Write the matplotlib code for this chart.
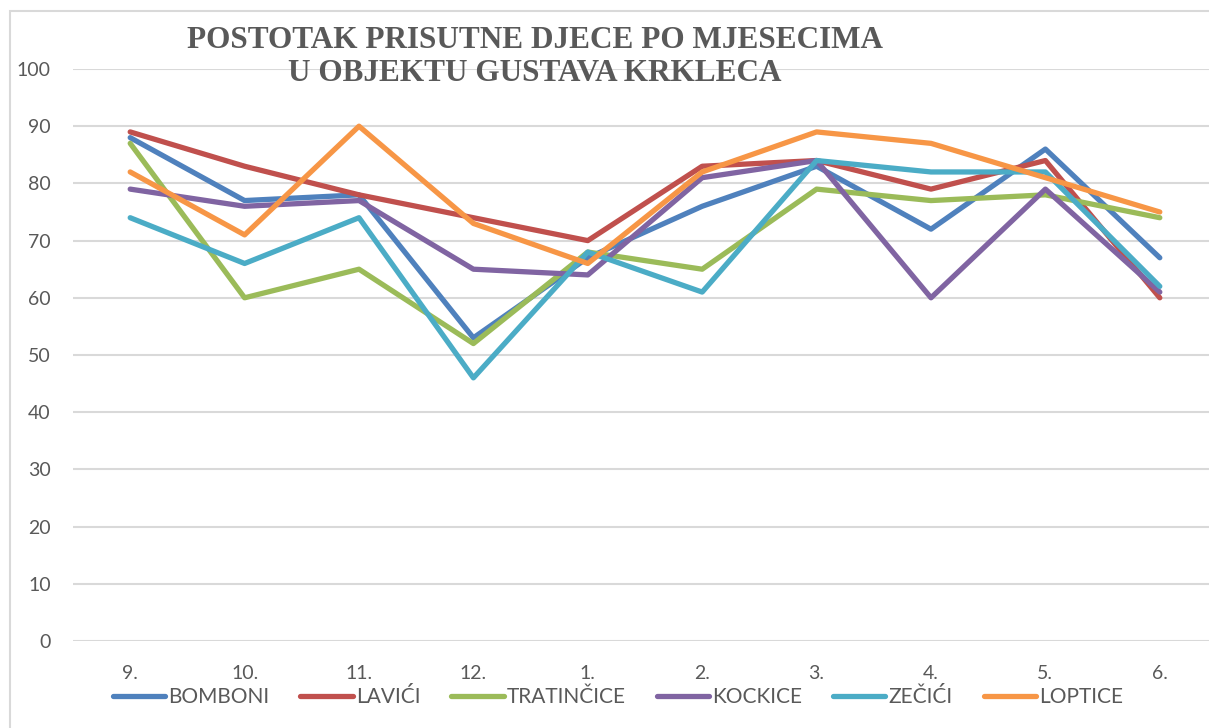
import matplotlib.pyplot as plt
from matplotlib.patches import Rectangle

months = ['9.', '10.', '11.', '12.', '1.', '2.', '3.', '4.', '5.', '6.']

bomboni = [88, 77, 78, 53, 67, 76, 83, 72, 86, 67]
lavici = [89, 83, 78, 74, 70, 83, 84, 79, 84, 60]
tratincice = [87, 60, 65, 52, 68, 65, 79, 77, 78, 74]
kockice = [79, 76, 77, 65, 64, 81, 84, 60, 79, 61]
zecici = [74, 66, 74, 46, 68, 61, 84, 82, 82, 62]
loptice = [82, 71, 90, 73, 66, 82, 89, 87, 81, 75]

series = [
    ('BOMBONI', bomboni, '#4F81BD'),
    ('LAVIĆI', lavici, '#C0504D'),
    ('TRATINČICE', tratincice, '#9BBB59'),
    ('KOCKICE', kockice, '#8064A2'),
    ('ZEČIĆI', zecici, '#4BACC6'),
    ('LOPTICE', loptice, '#F79646'),
]

text_col = '#595959'
plt.rcParams['font.family'] = ['Lato', 'DejaVu Sans']

fig = plt.figure(figsize=(12.09, 7.28), dpi=100)
ax = fig.add_axes([73 / 1209, 1 - 641 / 728, 1144 / 1209, 572 / 728])

x = list(range(len(months)))
for name, vals, col in series:
    ax.plot(x, vals, color=col, lw=3.8, label=name,
            solid_capstyle='round', solid_joinstyle='round')

ax.set_xlim(-0.5, len(months) - 0.5)
ax.set_ylim(0, 100)
ax.set_yticks(range(0, 101, 10))
ax.set_xticks(x)
ax.set_xticklabels(months)
ax.tick_params(axis='y', length=0, pad=16, labelsize=14, labelcolor=text_col)
ax.tick_params(axis='x', length=0, pad=17, labelsize=14, labelcolor=text_col)
ax.grid(axis='y', color='#d9d9d9', lw=1.5)
ax.set_axisbelow(True)
for s in ax.spines.values():
    s.set_visible(False)

# chart border
fig.patches.append(Rectangle((10 / 1209, -0.1), 1.2, 1 - 11 / 728 + 0.1,
                             transform=fig.transFigure, fill=False,
                             edgecolor='#d9d9d9', lw=1.5))

fig.text(535 / 1209, 1 - 57 / 728,
         'POSTOTAK PRISUTNE DJECE PO MJESECIMA\nU OBJEKTU GUSTAVA KRKLECA',
         ha='center', va='center', fontsize=22.5, fontweight='bold',
         family='Liberation Serif', color=text_col, linespacing=1.2)

fig.legend(loc='center', bbox_to_anchor=(618 / 1209, 1 - 697 / 728), ncol=6,
           frameon=False, fontsize=15, labelcolor=text_col, handlelength=2.5,
           handletextpad=0.15, columnspacing=1.5)

fig.savefig('out.png', dpi=100)
